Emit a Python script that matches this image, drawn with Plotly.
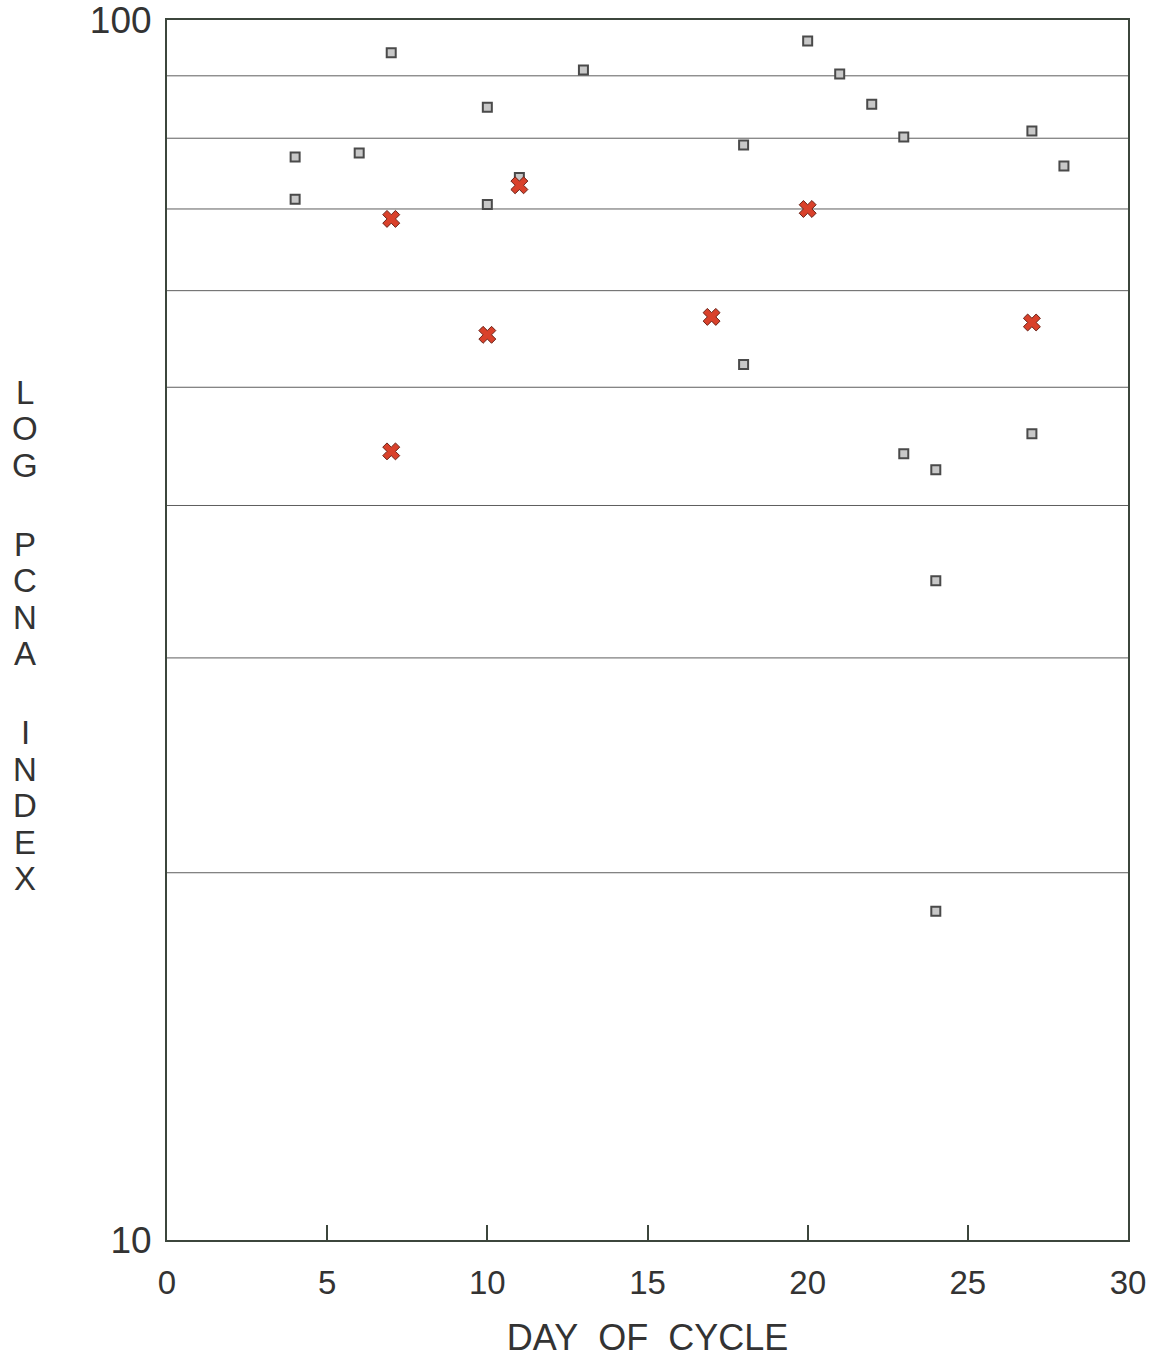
import plotly.graph_objects as go

# Gray squares (all observations)
sq_day = [4, 4, 6, 7, 10, 10, 11, 13, 18, 18, 20, 21, 22, 23, 23, 24, 24, 24, 27, 27, 28]
sq_val = [77.2, 71.3, 77.8, 94.0, 84.8, 70.6, 74.3, 91.0, 79.0, 52.2, 96.1, 90.3,
          85.3, 80.2, 44.1, 42.8, 34.7, 18.6, 81.1, 45.8, 75.9]

# Red crosses
x_day = [7, 7, 10, 11, 17, 20, 27]
x_val = [68.7, 44.3, 55.2, 73.2, 57.1, 70.0, 56.5]

grid_values = [20, 30, 40, 50, 60, 70, 80, 90]
x_ticks = [0, 5, 10, 15, 20, 25, 30]
y_ticks = [10, 100]
y_title_words = ["LOG", "PCNA", "INDEX"]
x_title = "DAY&nbsp; OF&nbsp; CYCLE"

FONT = "Liberation Sans, Arial, sans-serif"
TXT = "#333333"
AXIS = "#3c463c"

W, H = 1159, 1360
L, R, T, B = 167, 31, 20, 120
plot_w = W - L - R
plot_h = H - T - B

fig = go.Figure()

fig.add_trace(go.Scatter(
    x=sq_day, y=sq_val, mode="markers",
    marker=dict(symbol="square", size=9, color="#c8c8c8",
                line=dict(color="#4a4a4a", width=2)),
    showlegend=False, hoverinfo="x+y"))

fig.add_trace(go.Scatter(
    x=x_day, y=x_val, mode="markers",
    marker=dict(symbol="x", size=15, color="#d9412b",
                line=dict(color="#6a2218", width=1)),
    showlegend=False, hoverinfo="x+y"))

for g in grid_values:
    fig.add_shape(type="line", xref="paper", x0=0, x1=1, yref="y", y0=g, y1=g,
                  line=dict(color="#5e5e5e", width=1), layer="below")

# Vertical stacked y-axis title
y_px = 392
step = 36.5
for wi, word in enumerate(y_title_words):
    for ch in word:
        fig.add_annotation(text=ch, xref="paper", yref="paper",
                           x=(25 - L) / plot_w,
                           y=(H - B - y_px) / plot_h,
                           xanchor="center", yanchor="middle", showarrow=False,
                           font=dict(family=FONT, size=33, color=TXT))
        y_px += step
    y_px += 79 - step

fig.update_layout(
    width=W, height=H,
    margin=dict(l=L, r=R, t=T, b=B),
    paper_bgcolor="white", plot_bgcolor="white",
    xaxis=dict(range=[0, 30], tickvals=x_ticks, ticktext=[str(v) for v in x_ticks],
               ticks="inside", ticklen=15, tickwidth=1.5, tickcolor=AXIS,
               showline=True, linecolor=AXIS, linewidth=2, mirror=True,
               showgrid=False, zeroline=False, automargin=False,
               tickfont=dict(family=FONT, size=33, color=TXT),
               ticklabelstandoff=12, ticklabeloverflow="allow",
               title=dict(text=x_title, font=dict(family=FONT, size=36, color=TXT),
                          standoff=25)),
    yaxis=dict(type="log", range=[1, 2], tickvals=y_ticks,
               ticktext=[str(v) for v in y_ticks],
               ticks="", showline=True, linecolor=AXIS, linewidth=2, mirror=True,
               showgrid=False, zeroline=False, automargin=False,
               tickfont=dict(family=FONT, size=37, color=TXT),
               ticklabelstandoff=6, ticklabeloverflow="allow"),
)

fig.write_html("out.html")
